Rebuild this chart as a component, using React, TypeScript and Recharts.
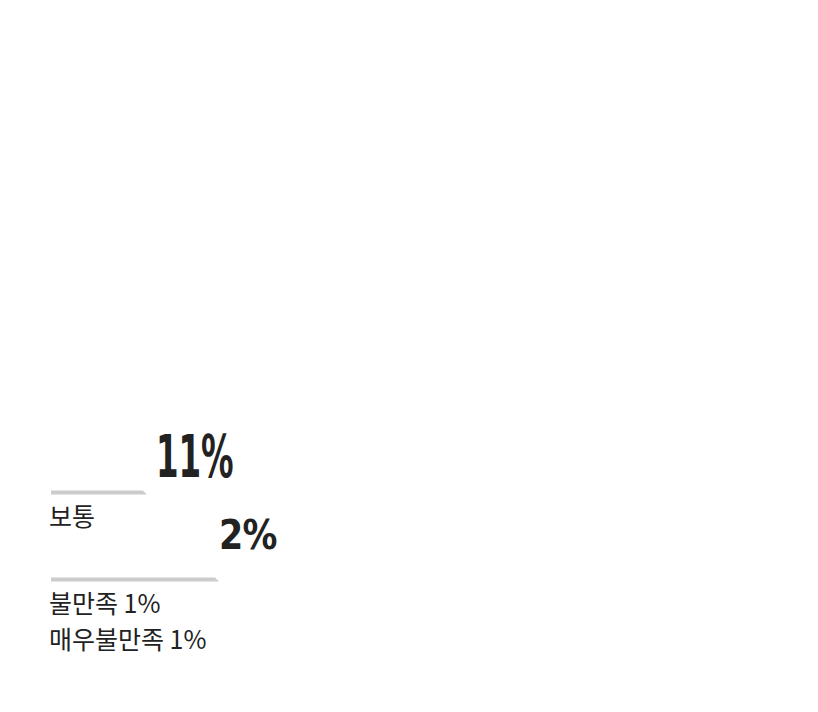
import React from 'react'
import { BarChart, Bar, XAxis, YAxis, LabelList } from 'recharts'

// 응답 분포 (하단 두 줄만 보임)
const categories = ['보통', '불만족·매우불만족']
const shares = [11, 2]
// 막대 길이 (눈금 0-100 기준, 그림에서 읽음)
const barLengths = [13.7, 24]
// 카테고리 아래 표시되는 글
const tickLines = [['보통'], ['불만족 1%', '매우불만족 1%']]

const data = categories.map((name, i) => ({
  name,
  share: shares[i],
  bar: barLengths[i],
}))

// 값 라벨 스타일 (행마다 다름)
const valueStyle = [
  { size: 58, dx: 9, dy: -14, sx: 0.56, spacing: 0 },
  { size: 41, dx: 0, dy: -29, sx: 0.85, spacing: -1 },
]

const SlantBar = (props: any) => {
  const { x, y, width, height } = props
  const d = `M${x},${y} L${x + width - 4},${y} L${x + width},${y + height} L${x},${y + height} Z`
  return <path d={d} fill="#cccccc" />
}

const ValueLabel = (props: any) => {
  const { x, y, width, index, value } = props
  const s = valueStyle[index]
  return (
    <text
      transform={`translate(${x + width + s.dx},${y + s.dy}) scale(${s.sx},1)`}
      x={0}
      y={0}
      fill="#222"
      fontSize={s.size}
      fontWeight={700}
      letterSpacing={s.spacing}
      fontFamily="'DejaVu Sans', sans-serif"
    >
      {value}%
    </text>
  )
}

const NameLabel = (props: any) => {
  const { x, y, height, index } = props
  const lines = tickLines[index] || []
  return (
    <g>
      {lines.map((line, i) => (
        <text
          key={i}
          x={x - 2}
          y={y + height / 2 + 33 + i * 36}
          fill="#222"
          fontSize={25}
          textAnchor="start"
          fontFamily="'Noto Sans CJK KR', 'Noto Sans', sans-serif"
        >
          {line}
        </text>
      ))}
    </g>
  )
}

export default function App() {
  return (
    <div style={{ position: 'absolute', left: 0, top: 0, background: '#fff' }}>
      <BarChart
        width={818}
        height={712}
        data={data}
        layout="vertical"
        margin={{ top: 448.5, right: 67, left: 51, bottom: 89.5 }}
      >
        <XAxis type="number" domain={[0, 100]} hide />
        <YAxis type="category" dataKey="name" hide />
        <Bar dataKey="bar" barSize={4} shape={<SlantBar />} isAnimationActive={false}>
          <LabelList dataKey="share" content={<ValueLabel />} />
          <LabelList dataKey="name" content={<NameLabel />} />
        </Bar>
      </BarChart>
    </div>
  )
}
